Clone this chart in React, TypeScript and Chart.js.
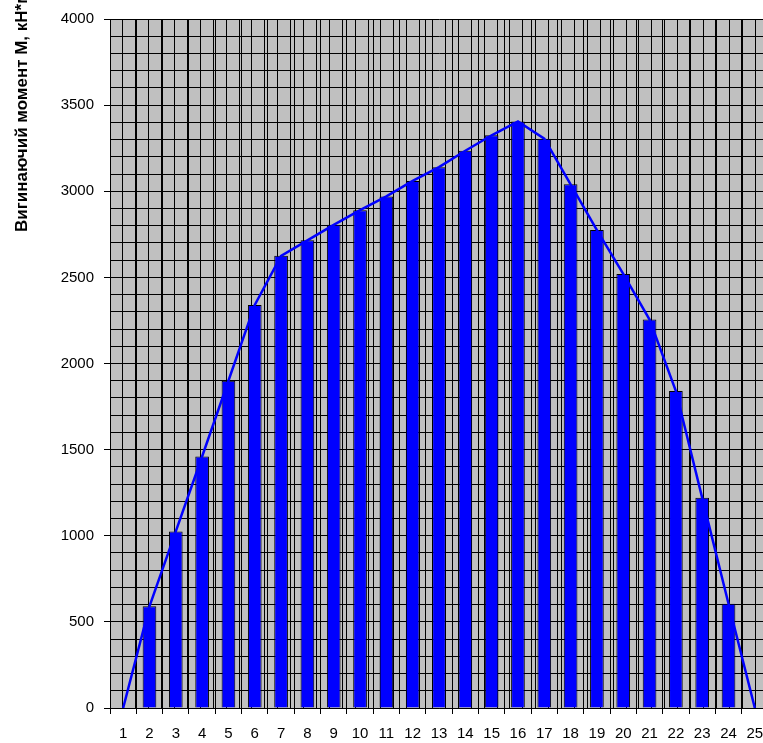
import React, { useEffect, useRef } from "react";
import { Chart, registerables } from "chart.js";

Chart.register(...registerables);

const sections: string[] = [
  "1", "2", "3", "4", "5", "6", "7", "8", "9", "10", "11", "12", "13",
  "14", "15", "16", "17", "18", "19", "20", "21", "22", "23", "24", "25",
];

const momentValues: number[] = [
  0, 590, 1025, 1460, 1900, 2340, 2625, 2715, 2805, 2890, 2970, 3060, 3140,
  3235, 3325, 3405, 3305, 3040, 2775, 2520, 2255, 1840, 1220, 605, 0,
];

const yMin = 0;
const yMax = 4000;
const yGridStep = 100;
const yLabelStep = 500;

const axisTitle = "Вигинаючий момент M, кН*м";

const W = 780;
const H = 743;

export default function App() {
  const ref = useRef<HTMLCanvasElement | null>(null);

  useEffect(() => {
    const canvas = ref.current;
    if (!canvas) return;

    const bgPlugin = {
      id: "plotBg",
      beforeDraw(chart: any) {
        const { ctx, chartArea } = chart;
        ctx.save();
        ctx.fillStyle = "#c0c0c0";
        ctx.fillRect(
          chartArea.left,
          chartArea.top,
          chartArea.right - chartArea.left,
          chartArea.bottom - chartArea.top
        );
        ctx.restore();
      },
    };

    const titlePlugin = {
      id: "yTitle",
      afterDraw(chart: any) {
        const { ctx } = chart;
        ctx.save();
        ctx.translate(27, 232);
        ctx.rotate(-Math.PI / 2);
        ctx.font = "bold 17px 'Liberation Sans', Arial, sans-serif";
        ctx.fillStyle = "#000";
        ctx.textAlign = "left";
        ctx.textBaseline = "alphabetic";
        ctx.fillText(axisTitle, 0, 0);
        ctx.restore();
      },
    };

    const chart = new Chart(canvas, {
      type: "bar",
      data: {
        labels: sections,
        datasets: [
          {
            type: "line",
            data: momentValues,
            borderColor: "#0000ff",
            backgroundColor: "#0000ff",
            borderWidth: 2.5,
            pointRadius: 0,
            tension: 0,
            order: 0,
            xAxisID: "x",
            yAxisID: "y",
          } as any,
          {
            type: "bar",
            data: momentValues.map((v) => (v === 0 ? null : v)),
            backgroundColor: "#0000ff",
            borderColor: "#000000",
            borderWidth: 1,
            barPercentage: 0.52,
            categoryPercentage: 1,
            order: 1,
            xAxisID: "x",
            yAxisID: "y",
          } as any,
        ],
      },
      options: {
        responsive: false,
        animation: false,
        devicePixelRatio: 1,
        layout: { padding: { top: 16, right: 12, left: 0, bottom: 0 } },
        plugins: {
          legend: { display: false },
          tooltip: { enabled: false },
          title: { display: false },
        },
        scales: {
          x: {
            type: "category",
            position: "bottom",
            offset: true,
            grid: {
              display: true,
              offset: true,
              color: "#000",
              lineWidth: 1,
              drawOnChartArea: true,
              tickLength: 6,
              tickColor: "#000",
            },
            border: { display: true, color: "#000", width: 1 },
            ticks: {
              autoSkip: false,
              maxRotation: 0,
              minRotation: 0,
              padding: 11,
              color: "#000",
              font: { family: "'Liberation Sans', Arial, sans-serif", size: 15 },
            },
            afterFit(scale: any) {
              scale.height = 35;
            },
          },
          x2: {
            type: "linear",
            position: "bottom",
            min: 0.5,
            max: 25.5,
            grid: {
              display: true,
              color: "#000",
              lineWidth: 1,
              drawTicks: false,
            },
            border: { display: false },
            ticks: { display: false, stepSize: 0.5 },
            afterFit(scale: any) {
              scale.height = 0;
            },
          },
          y: {
            type: "linear",
            min: yMin,
            max: yMax,
            grid: {
              display: true,
              color: "#000",
              lineWidth: 1,
              tickLength: 6,
              tickColor: (ctx: any) =>
                ctx.tick && ctx.tick.value % yLabelStep === 0 ? "#000" : "rgba(0,0,0,0)",
            },
            border: { display: true, color: "#000", width: 1 },
            ticks: {
              stepSize: yGridStep,
              autoSkip: false,
              padding: 10,
              color: "#000",
              font: { family: "'Liberation Sans', Arial, sans-serif", size: 15 },
              callback: (value: any) =>
                Number(value) % yLabelStep === 0 ? String(value) : "",
            },
            afterFit(scale: any) {
              scale.width = 110;
            },
          },
        },
      },
      plugins: [bgPlugin, titlePlugin],
    });

    return () => chart.destroy();
  }, []);

  return (
    <div
      style={{
        position: "absolute",
        left: 0,
        top: 0,
        width: 763,
        height: 743,
        overflow: "hidden",
        background: "#fff",
      }}
    >
      <canvas ref={ref} width={W} height={H} style={{ width: W, height: H, display: "block" }} />
    </div>
  );
}
